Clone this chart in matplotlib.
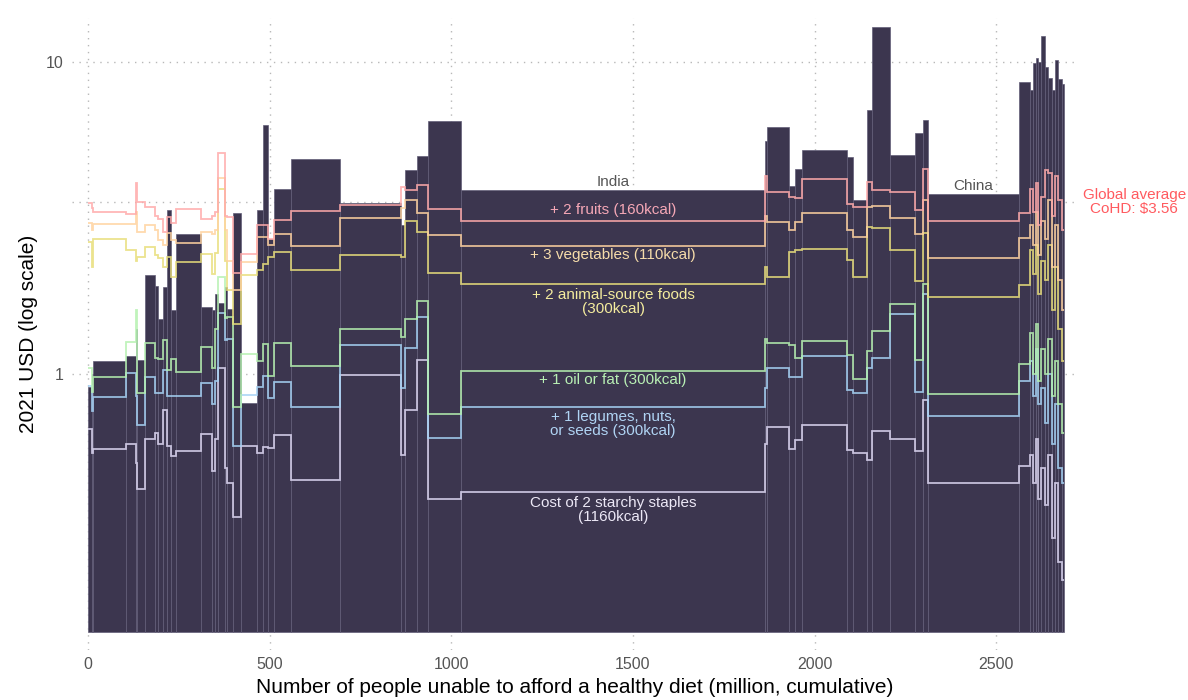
import numpy as np
import matplotlib.pyplot as plt
from matplotlib.ticker import NullLocator

plt.rcParams['font.family'] = ['Liberation Sans', 'DejaVu Sans']

# people unable to afford a healthy diet, one entry per country, in plot order (million)
pop_million = [10.2, 3.6, 90.0, 27.5, 4.4, 21.2, 27.5, 8.3, 13.8, 10.2,
               12.7, 12.1, 68.8, 31.9, 6.6, 9.9, 18.4, 6.3, 15.7, 21.2,
               44.0, 18.2, 13.8, 15.7, 46.0, 135.7, 167.1, 11.8, 33.9, 30.3,
               90.0, 836.9, 6.3, 60.6, 15.7, 18.4, 125.5, 15.7, 37.7, 14.6,
               49.6, 69.7, 20.4, 13.8, 251.3, 30.3, 7.4, 8.3, 7.2, 6.6,
               11.8, 8.3, 10.2, 9.1, 9.1, 9.4, 6.3]

# cost of a healthy diet per country (bar height, 2021 USD)
cohd = [0.91, 1.0, 1.10, 1.14, 1.4, 1.11, 2.08, 1.92, 1.50, 1.90,
        3.35, 1.61, 2.80, 1.64, 1.6, 1.81, 1.69, 1.9, 1.62, 3.29,
        0.806, 3.35, 6.27, 2.7, 3.9, 4.9, 3.54, 3.0, 4.5, 4.98,
        6.47, 3.88, 5.58, 6.19, 4.0, 4.55, 5.23, 4.96, 3.61, 6.99,
        12.9, 5.02, 5.93, 6.5, 3.77, 8.6, 8.1, 9.9, 10.3, 10.0,
        12.1, 9.6, 8.9, 8.1, 10.1, 8.8, 8.5]

# cumulative cost of the diet components
staples = [0.667, 0.56, 0.575, 0.597, 0.52, 0.43, 0.62, 0.647, 0.6, 0.767,
           0.59, 0.548, 0.567, 0.643, 0.49, 0.62, 1.05, 0.5, 0.45, 0.349,
           0.589, 0.56, 0.586, 0.58, 0.638, 0.458, 0.993, 0.55, 0.767, 1.11,
           0.40, 0.419, 0.6, 0.68, 0.578, 0.615, 0.687, 0.57, 0.56, 0.53,
           0.657, 0.618, 0.568, 0.826, 0.448, 0.51, 0.55, 0.45, 0.62, 0.4,
           0.5, 0.38, 0.55, 0.3, 0.45, 0.25, 0.22]
legumes = [0.92, 0.76, 0.846, 1.01, 0.85, 0.69, 0.978, 0.87, 0.87, 1.03,
           0.85, 0.85, 0.85, 0.94, 0.8, 0.95, 1.57, 1.29, 1.30, 0.59,
           0.856, 0.91, 0.99, 0.84, 0.945, 0.786, 1.24, 0.9, 1.21, 1.52,
           0.627, 0.786, 0.9, 1.05, 0.98, 0.98, 1.14, 0.89, 0.868, 1.05,
           1.13, 1.56, 0.88, 1.80, 0.736, 0.95, 1.1, 0.85, 1.2, 0.8,
           0.9, 0.7, 1.0, 0.6, 0.8, 0.5, 0.45]
oil = [1.05, 0.88, 0.978, 1.27, 1.6, 0.87, 1.26, 1.13, 1.12, 1.29,
       1.03, 1.12, 1.02, 1.22, 1.05, 1.4, 2.05, 1.51, 1.52, 0.786,
       1.16, 1.10, 1.25, 0.99, 1.26, 1.06, 1.39, 1.32, 1.5, 1.72,
       0.748, 1.025, 1.3, 1.26, 1.24, 1.13, 1.28, 1.15, 0.968, 1.19,
       1.37, 1.68, 1.11, 1.95, 0.863, 1.08, 1.35, 1.0, 1.45, 0.95,
       1.2, 1.0, 1.3, 0.85, 1.1, 0.8, 0.65]
animal = [2.64, 2.2, 2.70, 2.49, 2.3, 2.37, 2.55, 2.40, 2.35, 2.2,
          2.37, 2.05, 2.29, 2.42, 2.1, 2.45, 3.9, 2.3, 1.86, 1.45,
          2.08, 2.15, 2.26, 2.37, 2.46, 2.16, 2.40, 2.38, 3.1, 2.85,
          2.11, 1.95, 2.2, 2.05, 2.46, 2.49, 2.52, 2.32, 2.05, 2.96,
          2.94, 2.5, 1.99, 2.84, 1.76, 1.93, 2.5, 2.1, 2.6, 1.8,
          2.3, 2.0, 2.6, 1.6, 2.2, 1.4, 1.1]
vegetables = [3.05, 2.9, 3.02, 3.02, 3.3, 2.85, 3.0, 2.9, 2.68, 2.6,
              2.83, 2.68, 2.63, 2.85, 2.8, 2.9, 4.26, 2.9, 2.3, 1.86,
              2.28, 2.75, 2.75, 2.6, 2.8, 2.57, 3.15, 3.4, 3.6, 3.28,
              2.78, 2.57, 3.2, 3.07, 2.9, 3.07, 3.29, 2.9, 2.75, 3.43,
              3.45, 3.17, 2.8, 3.61, 2.35, 2.72, 3.0, 2.6, 3.3, 2.4,
              3.1, 2.7, 3.6, 2.2, 3.0, 2.0, 1.6]
fruits = [3.53, 3.4, 3.31, 3.25, 4.1, 3.56, 3.44, 3.2, 3.14, 2.85,
          3.19, 3.05, 3.37, 3.13, 3.2, 3.3, 5.11, 3.2, 3.19, 2.11,
          2.42, 3.0, 3.0, 2.7, 3.12, 3.33, 3.49, 3.98, 3.88, 4.02,
          3.37, 3.10, 4.3, 3.83, 3.69, 3.65, 4.21, 3.5, 3.42, 4.12,
          3.88, 3.83, 3.35, 4.53, 3.09, 3.28, 3.9, 3.3, 4.1, 3.0,
          3.7, 4.5, 4.4, 3.2, 4.3, 3.6, 2.9]

global_avg = 3.56

components = [staples, legumes, oil, animal, vegetables, fruits]
line_colors = ['#dcd6f2', '#a6d2f5', '#b5f2b0', '#e8de7a', '#ffd3a0', '#ffaaaa']

edges = np.concatenate([[0], np.cumsum(pop_million)])
base = 0.15

fig = plt.figure(figsize=(11.88, 7), dpi=100)
ax = fig.add_axes([0.0606, 0.0714, 0.8468, 0.9026])
ax.set_yscale('log')

# 网格线（点线）
grid_kw = dict(color='#b8b8b8', linestyle=(0, (1, 4)), linewidth=1, zorder=0)
for yv in [1, 10, global_avg]:
    ax.axhline(yv, **grid_kw)
for xv in range(0, 3000, 500):
    ax.axvline(xv, **grid_kw)

# 柱子：宽度 = 人口，高度 = 健康饮食成本
ax.bar(edges[:-1], np.array(cohd) - base, width=pop_million, bottom=base,
       align='edge', color='#3c364f', edgecolor='#625d78', linewidth=0.5, zorder=2)

# 各组成部分的累计成本（阶梯线）
for vals, c in zip(components, line_colors):
    ax.stairs(vals, edges, baseline=None, color=c, linewidth=1.3, alpha=0.85, zorder=3)

# 标签
xc = (edges[31] + edges[32]) / 2
ax.text(xc, 3.92, 'India', ha='center', va='bottom', fontsize=11, color='#555555', zorder=4)
ax.text((edges[44] + edges[45]) / 2, 3.8, 'China', ha='center', va='bottom', fontsize=11,
        color='#555555', zorder=4)
labels = [
    (3.35, '+ 2 fruits (160kcal)', '#f5a7b6'),
    (2.40, '+ 3 vegetables (110kcal)', '#f6dcaa'),
    (1.70, '+ 2 animal-source foods\n(300kcal)', '#f4ec9e'),
    (0.957, '+ 1 oil or fat (300kcal)', '#b8f0b4'),
    (0.692, '+ 1 legumes, nuts,\nor seeds (300kcal)', '#b0d4f4'),
    (0.367, 'Cost of 2 starchy staples\n(1160kcal)', '#ece8f6'),
]
for yv, txt, c in labels:
    ax.text(xc, yv, txt, ha='center', va='center', fontsize=11, color=c,
            linespacing=1.0, zorder=4)

ax.text(2880, global_avg, 'Global average\nCoHD: $3.56', ha='center', va='center',
        fontsize=11, color='#ff5a5f', linespacing=1.05, clip_on=False)

ax.set_xlim(-44, 2725)
ax.set_ylim(0.131, 13.78)
ax.set_yticks([1, 10])
ax.set_yticklabels(['1', '10'])
ax.yaxis.set_minor_locator(NullLocator())
ax.set_xticks(range(0, 3000, 500))
ax.tick_params(axis='both', length=0, labelsize=11.5, labelcolor='#555555')
ax.tick_params(axis='y', pad=6)
ax.tick_params(axis='x', pad=5)
for s in ax.spines.values():
    s.set_visible(False)

ax.set_xlabel('Number of people unable to afford a healthy diet (million, cumulative)',
              fontsize=15, labelpad=4)
ax.set_ylabel('2021 USD (log scale)', fontsize=15, labelpad=6)

plt.savefig('out.png', dpi=100)
